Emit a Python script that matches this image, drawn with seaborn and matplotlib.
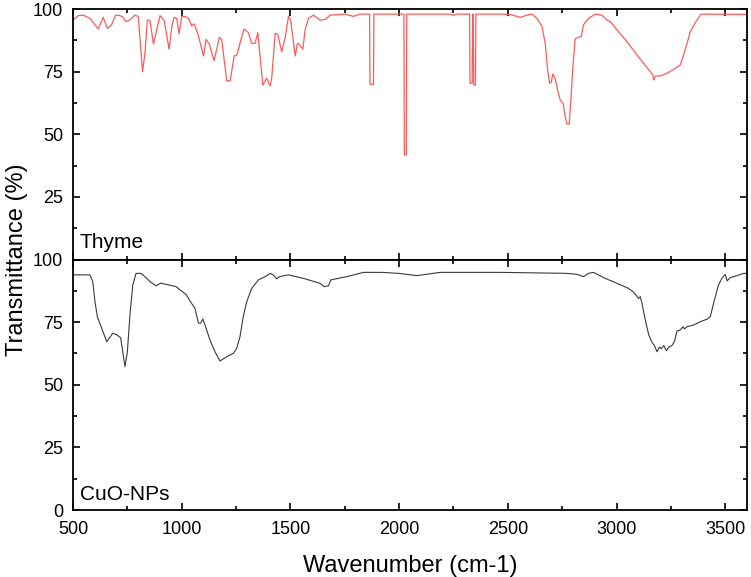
import numpy as np
import pandas as pd
import matplotlib
matplotlib.use("Agg")
import matplotlib.pyplot as plt
import seaborn as sns
from matplotlib.ticker import MultipleLocator

# Thyme spectrum (wavenumber, transmittance)
thyme_wn = [500, 524, 547, 578, 616, 639, 658, 677, 696, 716, 731, 742, 762, 785, 800,
            820, 831, 842, 854, 870, 882, 900, 919, 942, 955, 965, 977, 988, 1000, 1015,
            1031, 1046, 1058, 1077, 1100, 1112, 1127, 1149, 1173, 1184, 1207, 1223, 1241,
            1254, 1272, 1287, 1307, 1322, 1337, 1350, 1373, 1391, 1407, 1414, 1430, 1441,
            1460, 1476, 1491, 1501, 1522, 1532, 1540, 1557, 1568, 1583, 1606, 1637, 1660,
            1683, 1752, 1790, 1821, 1864, 1866, 1882, 1884, 2022, 2024, 2033, 2035, 2235,
            2250, 2265, 2324, 2326, 2336, 2338, 2341, 2343, 2351, 2353, 2480, 2519, 2557,
            2588, 2611, 2634, 2657, 2672, 2683, 2692, 2700, 2707, 2717, 2729, 2741, 2754,
            2764, 2772, 2782, 2790, 2799, 2810, 2825, 2838, 2848, 2871, 2902, 2933, 2956,
            2972, 3002, 3048, 3094, 3124, 3155, 3167, 3171, 3179, 3201, 3232, 3263, 3293,
            3308, 3324, 3339, 3362, 3389, 3600]
thyme_t = [95.6, 97.4, 97.6, 96.3, 92.1, 96.7, 92.3, 93.7, 97.6, 97.4, 96.7, 95.0, 95.7,
           97.6, 97.1, 75.0, 82.4, 95.6, 95.5, 86.1, 90.5, 97.4, 95.6, 84.0, 93.4, 96.7,
           96.3, 90.1, 97.1, 97.1, 96.3, 93.3, 94.1, 89.3, 81.3, 87.9, 86.0, 79.4, 88.7,
           87.8, 71.4, 71.4, 81.3, 81.7, 87.7, 92.1, 90.5, 86.3, 86.3, 90.6, 69.7, 72.4,
           69.3, 72.5, 90.3, 90.1, 83.0, 88.6, 97.2, 95.6, 81.3, 86.3, 86.0, 84.0, 92.0,
           96.3, 97.6, 95.6, 95.9, 97.6, 98.0, 97.1, 98.0, 98.0, 70.0, 70.0, 98.0, 98.0,
           41.8, 41.8, 98.0, 98.0, 97.5, 98.0, 98.0, 70.4, 70.4, 98.0, 98.0, 69.7, 69.7,
           98.0, 98.0, 97.7, 96.7, 97.6, 98.0, 96.3, 93.0, 86.3, 75.7, 70.4, 70.9, 74.1,
           72.4, 67.7, 63.7, 62.4, 57.0, 54.1, 54.1, 63.7, 77.0, 88.3, 88.7, 89.2, 93.7,
           96.3, 98.0, 97.6, 95.6, 95.0, 91.7, 87.0, 81.7, 78.4, 75.0, 73.7, 71.7, 73.3,
           73.3, 74.4, 76.0, 77.7, 81.7, 86.3, 91.0, 94.6, 98.0, 97.9]

# CuO nanoparticles spectrum
cuo_wn = [500, 578, 591, 601, 612, 632, 655, 668, 683, 701, 719, 729, 739, 750, 762, 775,
          790, 812, 831, 854, 882, 904, 939, 974, 992, 1020, 1038, 1061, 1077, 1087, 1097,
          1107, 1130, 1153, 1176, 1207, 1238, 1253, 1268, 1283, 1299, 1322, 1353, 1384,
          1407, 1421, 1437, 1449, 1491, 1560, 1637, 1655, 1675, 1686, 1760, 1836, 1921,
          1997, 2082, 2189, 2465, 2772, 2818, 2848, 2871, 2894, 2940, 3002, 3055, 3078,
          3101, 3109, 3117, 3132, 3148, 3163, 3174, 3186, 3198, 3206, 3217, 3229, 3241,
          3255, 3266, 3278, 3293, 3306, 3312, 3324, 3355, 3385, 3416, 3431, 3446, 3469,
          3485, 3500, 3508, 3523, 3554, 3584, 3600]
cuo_t = [93.9, 93.9, 91.2, 83.2, 77.2, 72.6, 67.2, 68.8, 70.6, 70.0, 68.8, 63.2, 57.2,
         63.2, 77.9, 89.9, 94.5, 94.5, 93.2, 91.2, 89.5, 90.6, 89.9, 89.2, 87.9, 86.1,
         83.5, 80.5, 74.6, 74.6, 76.3, 73.9, 67.9, 63.2, 59.5, 61.2, 62.6, 64.6, 69.2,
         77.2, 83.2, 88.5, 91.9, 93.2, 94.5, 93.9, 92.3, 93.2, 93.9, 92.5, 90.5, 89.2,
         89.5, 91.9, 93.2, 94.9, 94.9, 94.5, 93.6, 94.9, 94.9, 94.5, 94.1, 93.2, 94.5,
         94.9, 92.8, 90.5, 88.5, 87.0, 84.5, 85.2, 82.5, 75.9, 69.9, 67.0, 65.7, 63.2,
         65.1, 64.4, 65.7, 63.6, 65.1, 65.7, 67.3, 71.5, 71.9, 73.2, 72.3, 73.2, 73.9,
         75.2, 76.2, 77.2, 82.5, 89.9, 92.6, 94.1, 91.5, 92.8, 93.6, 94.5, 94.5]

sns.set_style("ticks")
plt.rcParams["font.family"] = ["Liberation Sans", "DejaVu Sans"]
plt.rcParams["text.color"] = "black"
plt.rcParams["xtick.color"] = "black"
plt.rcParams["ytick.color"] = "black"
plt.rcParams["axes.labelcolor"] = "black"

fig = plt.figure(figsize=(7.51, 5.77), dpi=100)
left, width = 0.0972, 0.8975
ax_top = fig.add_axes([left, 0.5501, width, 0.4341])
ax_bot = fig.add_axes([left, 0.1161, width, 0.4340])

thyme_df = pd.DataFrame({"wn": thyme_wn, "t": thyme_t})
cuo_df = pd.DataFrame({"wn": cuo_wn, "t": cuo_t})

sns.lineplot(data=thyme_df, x="wn", y="t", sort=False, estimator=None,
             color="#ff5a5a", linewidth=0.9, ax=ax_top)
sns.lineplot(data=cuo_df, x="wn", y="t", sort=False, estimator=None,
             color="#3a3a3a", linewidth=0.8, ax=ax_bot)

for ax in (ax_top, ax_bot):
    ax.set_xlim(500, 3600)
    ax.set_ylim(0, 100)
    ax.xaxis.set_major_locator(MultipleLocator(500))
    ax.xaxis.set_minor_locator(MultipleLocator(250))
    ax.yaxis.set_major_locator(MultipleLocator(25))
    ax.yaxis.set_minor_locator(MultipleLocator(12.5))
    ax.tick_params(which="both", direction="in", top=True, right=True,
                   labelsize=13, width=1.2)
    ax.tick_params(which="major", length=5)
    ax.tick_params(which="minor", length=3)
    ax.tick_params(axis="x", which="major", pad=8)
    ax.tick_params(axis="y", which="major", pad=7)
    for sp in ax.spines.values():
        sp.set_linewidth(1.3)
        sp.set_color("black")
    ax.set_xlabel("")
    ax.set_ylabel("")

ax_top.tick_params(labelbottom=False)
ax_top.set_yticks([25, 50, 75, 100])
ax_top.set_yticks([12.5, 37.5, 62.5, 87.5, 0], minor=True)

ax_top.text(0.01, 0.045, "Thyme", transform=ax_top.transAxes, fontsize=15,
            va="baseline", ha="left")
ax_bot.text(0.01, 0.04, "CuO-NPs", transform=ax_bot.transAxes, fontsize=15,
            va="baseline", ha="left")

ax_bot.set_xlabel("Wavenumber (cm-1)", fontsize=17, labelpad=12)
fig.text(0.022, 0.55, "Transmittance (%)", rotation=90, fontsize=17,
         ha="center", va="center")

fig.savefig("out.png", dpi=100)
